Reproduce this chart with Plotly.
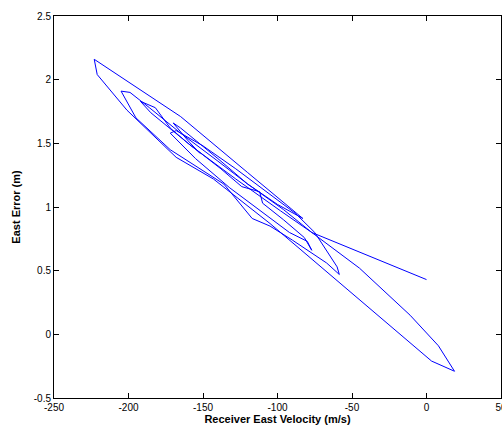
import plotly.graph_objects as go

# Trajectory: receiver east velocity (m/s) vs east error (m)
velocity = [0, -77, -98, -128, -158, -172, -182, -192,
            -185, -160, -138, -124, -112, -110, -96, -82, -77, -80, -92,
            -110, -132, -155, -172, -168, -150, -128, -105, -88, -75,
            -60, -58.5, -67, -90, -105, -117, -136, -172, -195, -205, -199, -186, -165, -140, -120, -100, -83,
            -120, -165, -223, -221, -201, -168, -143, -105, 3.4, 18.8, 8, -11, -45, -77,
            -96, -120, -140, -165, -170, -160, -152]
error = [0.43, 0.80, 0.97, 1.22, 1.48, 1.62, 1.78, 1.83,
         1.74, 1.50, 1.30, 1.16, 1.12, 1.03, 0.90, 0.76, 0.66, 0.73, 0.80,
         0.96, 1.15, 1.38, 1.58, 1.60, 1.48, 1.30, 1.10, 0.95, 0.80,
         0.53, 0.47, 0.56, 0.74, 0.85, 0.91, 1.18, 1.45, 1.70, 1.91, 1.90, 1.78, 1.58, 1.36, 1.18, 1.02, 0.91,
         1.27, 1.71, 2.16, 2.04, 1.76, 1.39, 1.22, 0.87, -0.21, -0.29, -0.09, 0.15, 0.52, 0.80,
         0.98, 1.18, 1.38, 1.62, 1.66, 1.52, 1.42]

x_ticks = [-250, -200, -150, -100, -50, 0, 50]
x_labels = ["-250", "-200", "-150", "-100", "-50", "0", "50"]
y_ticks = [-0.5, 0, 0.5, 1, 1.5, 2, 2.5]
y_labels = ["-0.5", "0", "0.5", "1", "1.5", "2", "2.5"]

fig = go.Figure()
fig.add_trace(go.Scatter(x=velocity, y=error, mode="lines",
                         line=dict(color="#0000ff", width=1), showlegend=False))

axis_common = dict(showline=True, linecolor="black", linewidth=1, mirror="ticks",
                   ticks="inside", ticklen=5, tickcolor="black", showgrid=False,
                   zeroline=False, ticklabeloverflow="allow", automargin=False,
                   tickfont=dict(family="Liberation Sans, Arial", size=10, color="black"))

fig.update_layout(
    width=502, height=428,
    margin=dict(l=54, r=1, t=16, b=30),
    paper_bgcolor="white", plot_bgcolor="white",
    xaxis=dict(range=[-250, 50], tickvals=x_ticks, ticktext=x_labels,
               title=dict(text="<b>Receiver East Velocity (m/s)</b>", standoff=2,
                          font=dict(family="Liberation Sans, Arial", size=11, color="black")),
               **axis_common),
    yaxis=dict(range=[-0.5, 2.5], tickvals=y_ticks, ticktext=y_labels,
               title=dict(text="<b>East Error (m)</b>", standoff=10,
                          font=dict(family="Liberation Sans, Arial", size=11, color="black")),
               **axis_common),
)

fig.write_html("out.html")
